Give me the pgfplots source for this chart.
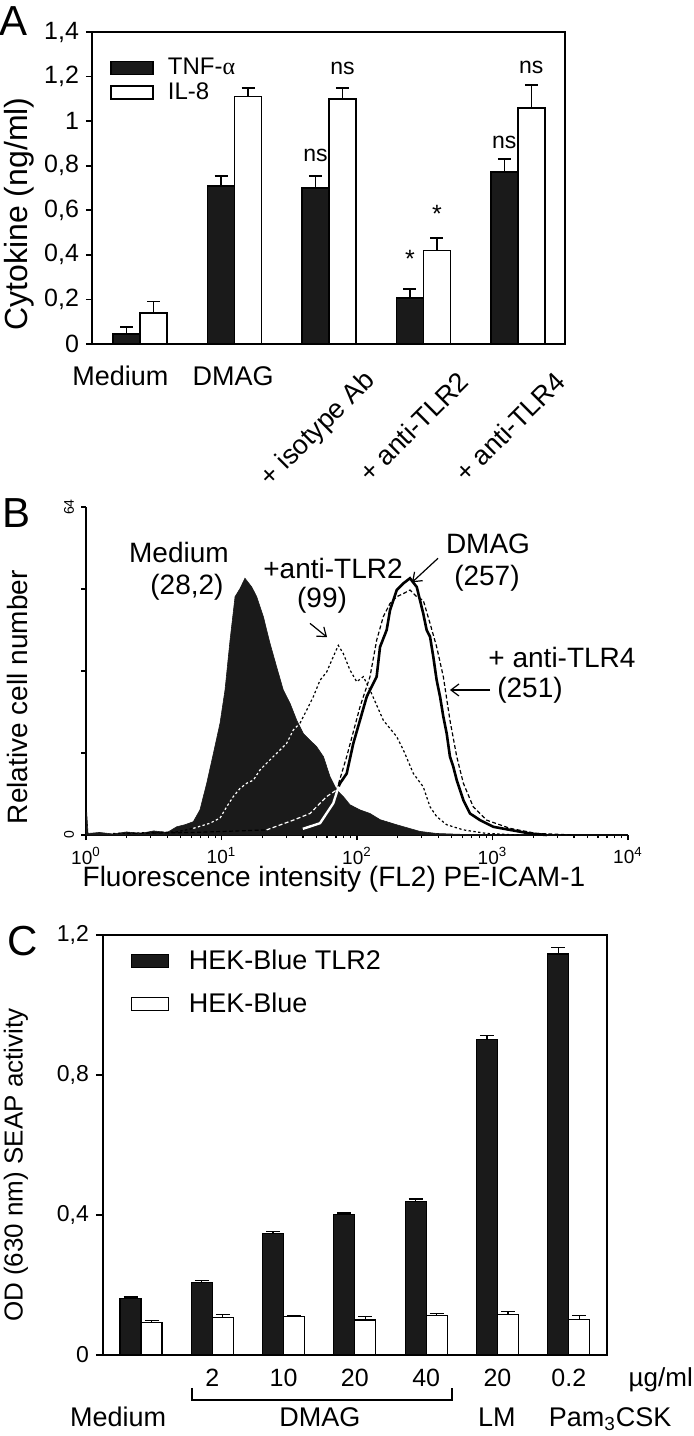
\documentclass[border=0pt]{standalone}
\usepackage{fontspec}
\setmainfont{Liberation Sans}
\newfontfamily\seriffont{Liberation Serif}
\usepackage{pgfplots}
\pgfplotsset{compat=1.18}
\usetikzlibrary{arrows.meta}
\definecolor{barblack}{RGB}{26,26,26}
\newcommand{\fs}[1]{\fontsize{#1}{#1}\selectfont}

\begin{document}
\begin{tikzpicture}
\path[use as bounding box] (0,0) rectangle (346.5pt,-718pt);

\node[font=\fs{21}] at (7pt,-10.5pt) {A};
\node[font=\fs{21}] at (8.5pt,-256.5pt) {B};
\node[font=\fs{21}] at (11.5pt,-470.5pt) {C};

% ---------------- Panel A ----------------
\begin{axis}[
  at={(46pt,-172pt)}, anchor=south west,
  scale only axis, width=236.5pt, height=156pt,
  xmin=-0.51, xmax=4.5, ymin=0, ymax=1.4,
  ybar=0pt, bar width=13.5pt,
  xtick=\empty,
  ytick={0,0.2,0.4,0.6,0.8,1,1.2,1.4},
  ytick pos=left, tick align=outside, major tick length=3pt,
  /pgf/number format/use comma, /pgf/number format/assume math mode=true,
  yticklabel style={font=\fs{12.5}},
  axis line style={line width=0.9pt}, tick style={line width=0.9pt, black},
  ylabel={Cytokine (ng/ml)},
  ylabel style={at={(axis description cs:-0.153,0.417)}, anchor=center, font=\fs{16}},
  clip=false,
  legend style={at={(axis description cs:0.038,0.93)}, anchor=north west, draw=none, fill=none,
    font=\fs{12}, inner sep=0pt, row sep=-1.5pt, cells={anchor=west}},
]
\addplot[fill=barblack, draw=black, line width=0.8pt,
  legend image code/.code={\draw[fill=barblack,draw=black,line width=0.8pt] (0pt,-3.25pt) rectangle (21pt,3.25pt);},
  error bars/.cd, y dir=plus, y explicit,
  error bar style={line width=0.8pt, black, solid},
  error mark options={rotate=90, mark size=3.25pt, line width=0.8pt, black}]
  coordinates {(0,0.045) +- (0,0.032) (1,0.71) +- (0,0.045) (2,0.70) +- (0,0.055) (3,0.207) +- (0,0.041) (4,0.772) +- (0,0.058)};
\addlegendentry{\hspace{5pt}TNF-{\seriffont α}}
\addplot[fill=white, draw=black, line width=0.8pt,
  legend image code/.code={\draw[fill=white,draw=black,line width=0.8pt] (0pt,-3.25pt) rectangle (21pt,3.25pt);},
  error bars/.cd, y dir=plus, y explicit,
  error bar style={line width=0.8pt, black, solid},
  error mark options={rotate=90, mark size=3.25pt, line width=0.8pt, black}]
  coordinates {(0,0.138) +- (0,0.052) (1,1.11) +- (0,0.04) (2,1.10) +- (0,0.048) (3,0.42) +- (0,0.055) (4,1.058) +- (0,0.104)};
\addlegendentry{\hspace{5pt}IL-8}

\node[font=\fs{11.5}] at (axis cs:1.857,0.848) {ns};
\node[font=\fs{11.5}] at (axis cs:2.143,1.238) {ns};
\node[font=\fs{12.5}] at (axis cs:2.857,0.38) {*};
\node[font=\fs{12.5}] at (axis cs:3.143,0.585) {*};
\node[font=\fs{11.5}] at (axis cs:3.857,0.906) {ns};
\node[font=\fs{11.5}] at (axis cs:4.143,1.243) {ns};

\node[font=\fs{13.5}, anchor=base] at (axis cs:-0.21,-0.188) {Medium};
\node[font=\fs{13.5}, anchor=base] at (axis cs:0.985,-0.188) {DMAG};
\node[font=\fs{13.5}, rotate=45, anchor=east] at (axis cs:2.5,-0.125) {+ isotype Ab};
\node[font=\fs{13.5}, rotate=45, anchor=east] at (axis cs:3.48,-0.125) {+ anti-TLR2};
\node[font=\fs{13.5}, rotate=45, anchor=east] at (axis cs:4.5,-0.125) {+ anti-TLR4};
\end{axis}

% ---------------- Panel B ----------------
\begin{axis}[
  at={(43pt,-417.5pt)}, anchor=south west,
  scale only axis, width=271pt, height=164pt,
  xmin=0, xmax=4, ymin=0, ymax=64,
  axis x line=bottom, axis y line=left,
  axis line style={-, line width=0.8pt},
  xtick={0,1,2,3,4},
  xticklabels={10\textsuperscript{0},10\textsuperscript{1},10\textsuperscript{2},10\textsuperscript{3},10\textsuperscript{4}},
  minor xtick={0.301,0.477,0.602,0.699,0.778,0.845,0.903,0.954,
    1.301,1.477,1.602,1.699,1.778,1.845,1.903,1.954,
    2.301,2.477,2.602,2.699,2.778,2.845,2.903,2.954,
    3.301,3.477,3.602,3.699,3.778,3.845,3.903,3.954},
  ytick={0,16,32,48,64}, yticklabels={0,,,,64},
  yticklabel style={rotate=90, anchor=south, font=\fs{7}},
  xticklabel style={font=\fs{9.5}},
  tick align=outside, major tick length=2.5pt, minor tick length=1.5pt,
  tick style={line width=0.6pt, black},
  ylabel={Relative cell number},
  ylabel style={at={(axis description cs:-0.127,0.42)}, anchor=center, font=\fs{14}},
  clip=false,
]
% Medium (filled)
\addplot[fill=barblack, draw=barblack, line width=0.3pt] coordinates {
(0,0) (0.005,4.5) (0.015,0.3) (0.1,0.5) (0.2,0.2) (0.3,0.6) (0.4,0.3) (0.5,0.8) (0.6,0.5)
(0.669,1.6) (0.73,2.0) (0.792,2.6) (0.841,4.9) (0.891,10.1) (0.940,15.9) (0.989,21.8)
(1.026,28.3) (1.063,38.0) (1.100,46.5) (1.137,48.1) (1.173,50.1) (1.223,48.4) (1.260,46.5)
(1.309,42.6) (1.358,37.4) (1.407,32.8) (1.456,28.3) (1.506,25.7) (1.555,22.4) (1.604,19.8)
(1.653,18.5) (1.703,17.2) (1.752,15.3) (1.801,11.4) (1.850,8.8) (1.899,7.5) (1.948,5.9)
(2.022,4.9) (2.096,4.2) (2.170,3.0) (2.293,2.0) (2.465,0.7) (2.588,0.3) (2.8,0.1) (4,0)} \closedcycle;
% + anti-TLR2 (dotted)
\addplot[white, line width=0.6pt, dash pattern=on 1.2pt off 1.2pt] coordinates {
(0.792,1.3) (0.915,2.3) (0.989,3.3) (1.038,5.5) (1.087,7.5) (1.137,9.1) (1.186,10.1)
(1.235,10.7) (1.284,12.7) (1.333,14.0) (1.382,15.3) (1.432,16.6) (1.481,17.9) (1.530,20.5) (1.579,21.8)};
\addplot[black, line width=0.6pt, dash pattern=on 1.2pt off 1.2pt] coordinates {
(0.2,0.3) (0.669,0.6) (0.792,1.3)};
\addplot[black, line width=0.6pt, dash pattern=on 1.2pt off 1.2pt] coordinates {
(1.579,21.8) (1.629,24.4) (1.678,27.0) (1.727,30.2) (1.776,31.8) (1.825,34.8) (1.862,37.0)
(1.899,35.4) (1.948,32.2) (1.998,29.9) (2.047,30.9) (2.096,28.3) (2.194,22.4) (2.293,19.2)
(2.342,16.6) (2.416,12.0) (2.489,9.4) (2.539,5.5) (2.588,3.6) (2.662,2.0) (2.785,1.0) (2.957,0.3) (3.2,0)};
% + anti-TLR4 (dashed)
\addplot[black, line width=0.6pt, dash pattern=on 2pt off 1.2pt] coordinates {
(0.3,0.3) (0.8,0.5) (1.333,1.0)};
\addplot[white, line width=0.6pt, dash pattern=on 2pt off 1.2pt] coordinates {
(1.333,1.0) (1.530,2.9) (1.653,4.2) (1.776,7.5) (1.850,8.8)};
\addplot[black, line width=0.6pt, dash pattern=on 2pt off 1.2pt] coordinates {
(1.850,8.8) (1.924,15.3) (2.022,25.0) (2.096,30.9) (2.145,38.0) (2.194,42.6) (2.244,45.2)
(2.293,46.5) (2.342,47.1) (2.391,47.8) (2.441,46.5) (2.489,45.8) (2.539,41.3) (2.588,36.7)
(2.637,30.9) (2.686,22.4) (2.736,15.3) (2.785,10.1) (2.858,5.5) (2.957,2.9) (3.129,1.3) (3.326,0.3) (3.6,0)};
% DMAG (solid)
\addplot[white, line width=1.2pt] coordinates {
(1.6,1.2) (1.727,2.3) (1.825,6.2) (1.865,9.5)};
\addplot[black, line width=1.3pt] coordinates {
(1.865,9.5) (1.875,10.1) (1.924,12.0) (1.973,17.9) (2.022,22.4) (2.072,27.0) (2.096,28.3)
(2.145,30.9) (2.170,36.7) (2.219,40.0) (2.244,43.9) (2.293,47.8) (2.342,49.1) (2.391,50.1)
(2.441,48.4) (2.465,45.8) (2.489,43.2) (2.514,40.0) (2.539,38.7) (2.563,34.8) (2.588,30.2)
(2.613,27.0) (2.637,23.1) (2.662,19.8) (2.686,15.3) (2.711,13.3) (2.736,10.7) (2.785,6.8)
(2.834,4.2) (2.908,2.9) (3.006,1.6) (3.129,1.0) (3.277,0.3) (3.4,0)};

\node[font=\fs{14}] at (axis cs:0.686,55.2) {Medium};
\node[font=\fs{14}] at (axis cs:0.745,48.4) {(28,2)};
\node[font=\fs{14}] at (axis cs:1.823,52.1) {+anti-TLR2};
\node[font=\fs{14}] at (axis cs:1.742,45.8) {(99)};
\node[font=\fs{14}] at (axis cs:2.967,56.9) {DMAG};
\node[font=\fs{14}] at (axis cs:2.959,50.1) {(257)};
\node[font=\fs{14}] at (axis cs:3.513,34.7) {+ anti-TLR4};
\node[font=\fs{14}] at (axis cs:3.277,28.3) {(251)};
\node[font=\fs{14}] at (axis cs:1.83,-8.6) {Fluorescence intensity (FL2) PE-ICAM-1};
\draw[-{Straight Barb[length=4pt,width=6pt]}, line width=0.6pt] (axis cs:1.653,41.3) -- (axis cs:1.779,38.6);
\draw[-{Straight Barb[length=4pt,width=6pt]}, line width=0.6pt] (axis cs:2.598,54.0) -- (axis cs:2.406,49.3);
\draw[-{Straight Barb[length=4pt,width=6pt]}, line width=0.6pt] (axis cs:2.982,28.3) -- (axis cs:2.686,28.3);
\end{axis}

% ---------------- Panel C ----------------
\begin{axis}[
  at={(51.5pt,-677.5pt)}, anchor=south west,
  scale only axis, width=252pt, height=210pt,
  xmin=-0.533, xmax=6.536, ymin=0, ymax=1.2,
  ybar=0pt, bar width=10.5pt,
  xtick=\empty,
  ytick={0,0.4,0.8,1.2},
  ytick pos=left, tick align=outside, major tick length=3.5pt,
  /pgf/number format/use comma, /pgf/number format/assume math mode=true,
  yticklabel style={font=\fs{11.5}},
  axis line style={line width=0.7pt}, tick style={line width=0.7pt, black},
  ylabel={OD (630 nm) SEAP activity},
  ylabel style={at={(axis description cs:-0.173,0.452)}, anchor=center, font=\fs{13}},
  clip=false,
  legend style={at={(axis description cs:0.054,0.975)}, anchor=north west, draw=none, fill=none,
    font=\fs{13.5}, inner sep=0pt, row sep=6pt, cells={anchor=west}},
]
\addplot[fill=barblack, draw=black, line width=0.6pt,
  legend image code/.code={\draw[fill=barblack,draw=black,line width=0.6pt] (0pt,-3.25pt) rectangle (18.5pt,3.25pt);},
  error bars/.cd, y dir=plus, y explicit,
  error bar style={line width=0.6pt, black, solid},
  error mark options={rotate=90, mark size=3.5pt, line width=0.6pt, black}]
  coordinates {(0,0.162) +- (0,0.004) (1,0.207) +- (0,0.005) (2,0.348) +- (0,0.005) (3,0.402) +- (0,0.004)
   (4,0.438) +- (0,0.008) (5,0.901) +- (0,0.013) (6,1.146) +- (0,0.019)};
\addlegendentry{\hspace{8pt}HEK-Blue TLR2}
\addplot[fill=white, draw=black, line width=0.6pt,
  legend image code/.code={\draw[fill=white,draw=black,line width=0.6pt] (0pt,-3.25pt) rectangle (18.5pt,3.25pt);},
  error bars/.cd, y dir=plus, y explicit,
  error bar style={line width=0.6pt, black, solid},
  error mark options={rotate=90, mark size=3.5pt, line width=0.6pt, black}]
  coordinates {(0,0.092) +- (0,0.007) (1,0.107) +- (0,0.009) (2,0.110) +- (0,0.004) (3,0.100) +- (0,0.010)
   (4,0.113) +- (0,0.006) (5,0.116) +- (0,0.008) (6,0.101) +- (0,0.013)};
\addlegendentry{\hspace{8pt}HEK-Blue}

\node[font=\fs{12.5}, anchor=base] at (axis cs:1,-0.089) {2};
\node[font=\fs{12.5}, anchor=base] at (axis cs:2,-0.089) {10};
\node[font=\fs{12.5}, anchor=base] at (axis cs:3,-0.089) {20};
\node[font=\fs{12.5}, anchor=base] at (axis cs:4,-0.089) {40};
\node[font=\fs{12.5}, anchor=base] at (axis cs:5,-0.089) {20};
\node[font=\fs{12.5}, anchor=base] at (axis cs:6,-0.089) {0.2};
\node[font=\fs{13}, anchor=base] at (axis cs:7.29,-0.089) {µg/ml};
\draw[line width=0.7pt] (axis cs:0.715,-0.094) -- (axis cs:0.715,-0.129) -- (axis cs:4.36,-0.129) -- (axis cs:4.36,-0.094);
\node[font=\fs{13.5}, anchor=base] at (axis cs:-0.32,-0.203) {Medium};
\node[font=\fs{13.5}, anchor=base] at (axis cs:2.51,-0.203) {DMAG};
\node[font=\fs{13.5}, anchor=base] at (axis cs:4.99,-0.203) {LM};
\node[font=\fs{13.5}, anchor=base] at (axis cs:6.58,-0.203) {Pam\textsubscript{3}CSK};
\end{axis}
\end{tikzpicture}
\end{document}
